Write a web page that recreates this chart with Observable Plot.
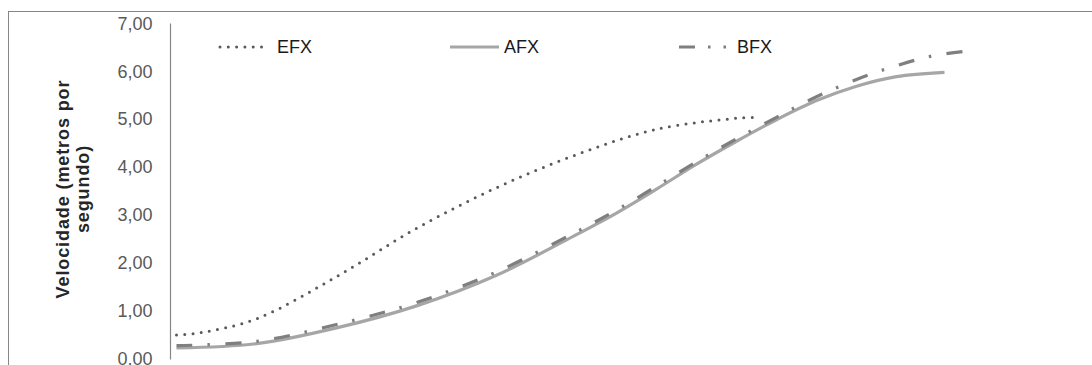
<!DOCTYPE html>
<html>
<head>
<meta charset="utf-8">
<script src="https://cdn.jsdelivr.net/npm/d3@7"></script>
<script src="https://cdn.jsdelivr.net/npm/@observablehq/plot@0.6"></script>
<style>
  html, body { margin: 0; padding: 0; background: #fff; width: 1092px; height: 365px; overflow: hidden; }
  #wrap { position: relative; width: 1092px; height: 365px; font-family: Arial, "Liberation Sans", sans-serif; }
  #border { position: absolute; left: 8px; top: 11px; width: 2000px; height: 1000px; border-top: 1px solid #868686; border-left: 1px solid #868686; box-sizing: border-box; }
  #chart { position: absolute; left: 0; top: 0; }
  #ylabel { position: absolute; left: 73px; top: 189px; transform: translate(-50%, -50%) rotate(-90deg); text-align: center; white-space: nowrap; font-weight: bold; font-size: 18px; letter-spacing: 0.9px; line-height: 20px; color: #262626; }
  .leg { position: absolute; top: 37px; height: 20px; display: flex; align-items: center; font-size: 18px; color: #1a1a1a; }
  .leg svg { display: block; }
</style>
</head>
<body>
<div id="wrap">
  <div id="border"></div>
  <div id="chart"></div>
  <div id="ylabel">Velocidade (metros por<br>segundo)</div>
  <div id="legend"></div>
</div>
<script>
// x positions (arbitrary horizontal units)
const xEFX = [0, 3, 10, 20, 30, 40, 50, 60, 70, 72.4];
const vEFX = [0.50, 0.55, 0.84, 1.72, 2.73, 3.58, 4.27, 4.80, 5.03, 5.05];

const xAFX = [0, 10, 20, 30, 40, 50, 55, 60, 65, 70, 75, 80, 85, 90, 96];
const vAFX = [0.23, 0.32, 0.65, 1.11, 1.75, 2.60, 3.05, 3.55, 4.07, 4.55, 5.00, 5.40, 5.70, 5.90, 5.99];

const xBFX = [0, 10, 20, 30, 40, 50, 55, 60, 65, 70, 75, 80, 85, 90, 95, 100];
const vBFX = [0.28, 0.37, 0.72, 1.18, 1.82, 2.66, 3.11, 3.61, 4.12, 4.60, 5.05, 5.48, 5.84, 6.13, 6.35, 6.45];

const yTicks = [0, 1, 2, 3, 4, 5, 6, 7];
const seriesNames = ["EFX", "AFX", "BFX"];

const styles = {
  EFX: {stroke: "#595959", strokeWidth: 3, dash: "0 8.3", cap: "round"},
  AFX: {stroke: "#a6a6a6", strokeWidth: 3.2, dash: null, cap: "butt"},
  BFX: {stroke: "#7f7f7f", strokeWidth: 3.2, dash: "16 15 2.5 15.5", cap: "butt"}
};

const toRows = (name, xs, vs) => xs.map((x, i) => ({serie: name, x, v: vs[i]}));
const rows = {
  EFX: toRows("EFX", xEFX, vEFX),
  AFX: toRows("AFX", xAFX, vAFX),
  BFX: toRows("BFX", xBFX, vBFX)
};

const fmt = d => d.toFixed(2).replace(".", ",");

const lineMark = name => Plot.line(rows[name], {
  x: "x", y: "v", curve: "catmull-rom",
  stroke: styles[name].stroke, strokeWidth: styles[name].strokeWidth,
  strokeDasharray: styles[name].dash, strokeLinecap: styles[name].cap
});

const chart = Plot.plot({
  width: 1092,
  height: 365,
  marginLeft: 170,
  marginRight: 116,
  marginTop: 23.5,
  marginBottom: 6.5,
  style: {background: "transparent", overflow: "visible", fontFamily: "Arial, 'Liberation Sans', sans-serif"},
  x: {domain: [0, 100], range: [176, 976], axis: null},
  y: {domain: [0, 7], axis: null},
  marks: [
    Plot.axisY({ticks: yTicks, tickFormat: fmt, tickSize: 0, tickPadding: 18, label: null, fontSize: 18, fill: "#595959"}),
    Plot.frame({anchor: "left", stroke: "#868686", strokeWidth: 1.2}),
    lineMark("AFX"),
    lineMark("BFX"),
    lineMark("EFX")
  ]
});
document.getElementById("chart").appendChild(chart);

// legend
const legendPos = {EFX: 218, AFX: 448, BFX: 677};
const legendLen = {EFX: 52, AFX: 53, BFX: 57};
const legend = document.getElementById("legend");
for (const name of seriesNames) {
  const s = styles[name];
  const div = document.createElement("div");
  div.className = "leg";
  div.style.left = legendPos[name] + "px";
  const w = legendLen[name];
  const ns = "http://www.w3.org/2000/svg";
  const svg = document.createElementNS(ns, "svg");
  svg.setAttribute("width", w);
  svg.setAttribute("height", 20);
  const ln = document.createElementNS(ns, "line");
  ln.setAttribute("x1", 2); ln.setAttribute("x2", w - 2);
  ln.setAttribute("y1", 10); ln.setAttribute("y2", 10);
  ln.setAttribute("stroke", s.stroke);
  ln.setAttribute("stroke-width", s.strokeWidth);
  ln.setAttribute("stroke-linecap", s.cap);
  if (name === "BFX") ln.setAttribute("stroke-dasharray", "16 13 2.5 13 2.5 13");
  else if (s.dash) ln.setAttribute("stroke-dasharray", s.dash);
  svg.appendChild(ln);
  div.appendChild(svg);
  const t = document.createElement("span");
  t.textContent = name;
  t.style.marginLeft = (name === "EFX" ? 7 : 3) + "px";
  div.appendChild(t);
  legend.appendChild(div);
}
</script>
</body>
</html>
